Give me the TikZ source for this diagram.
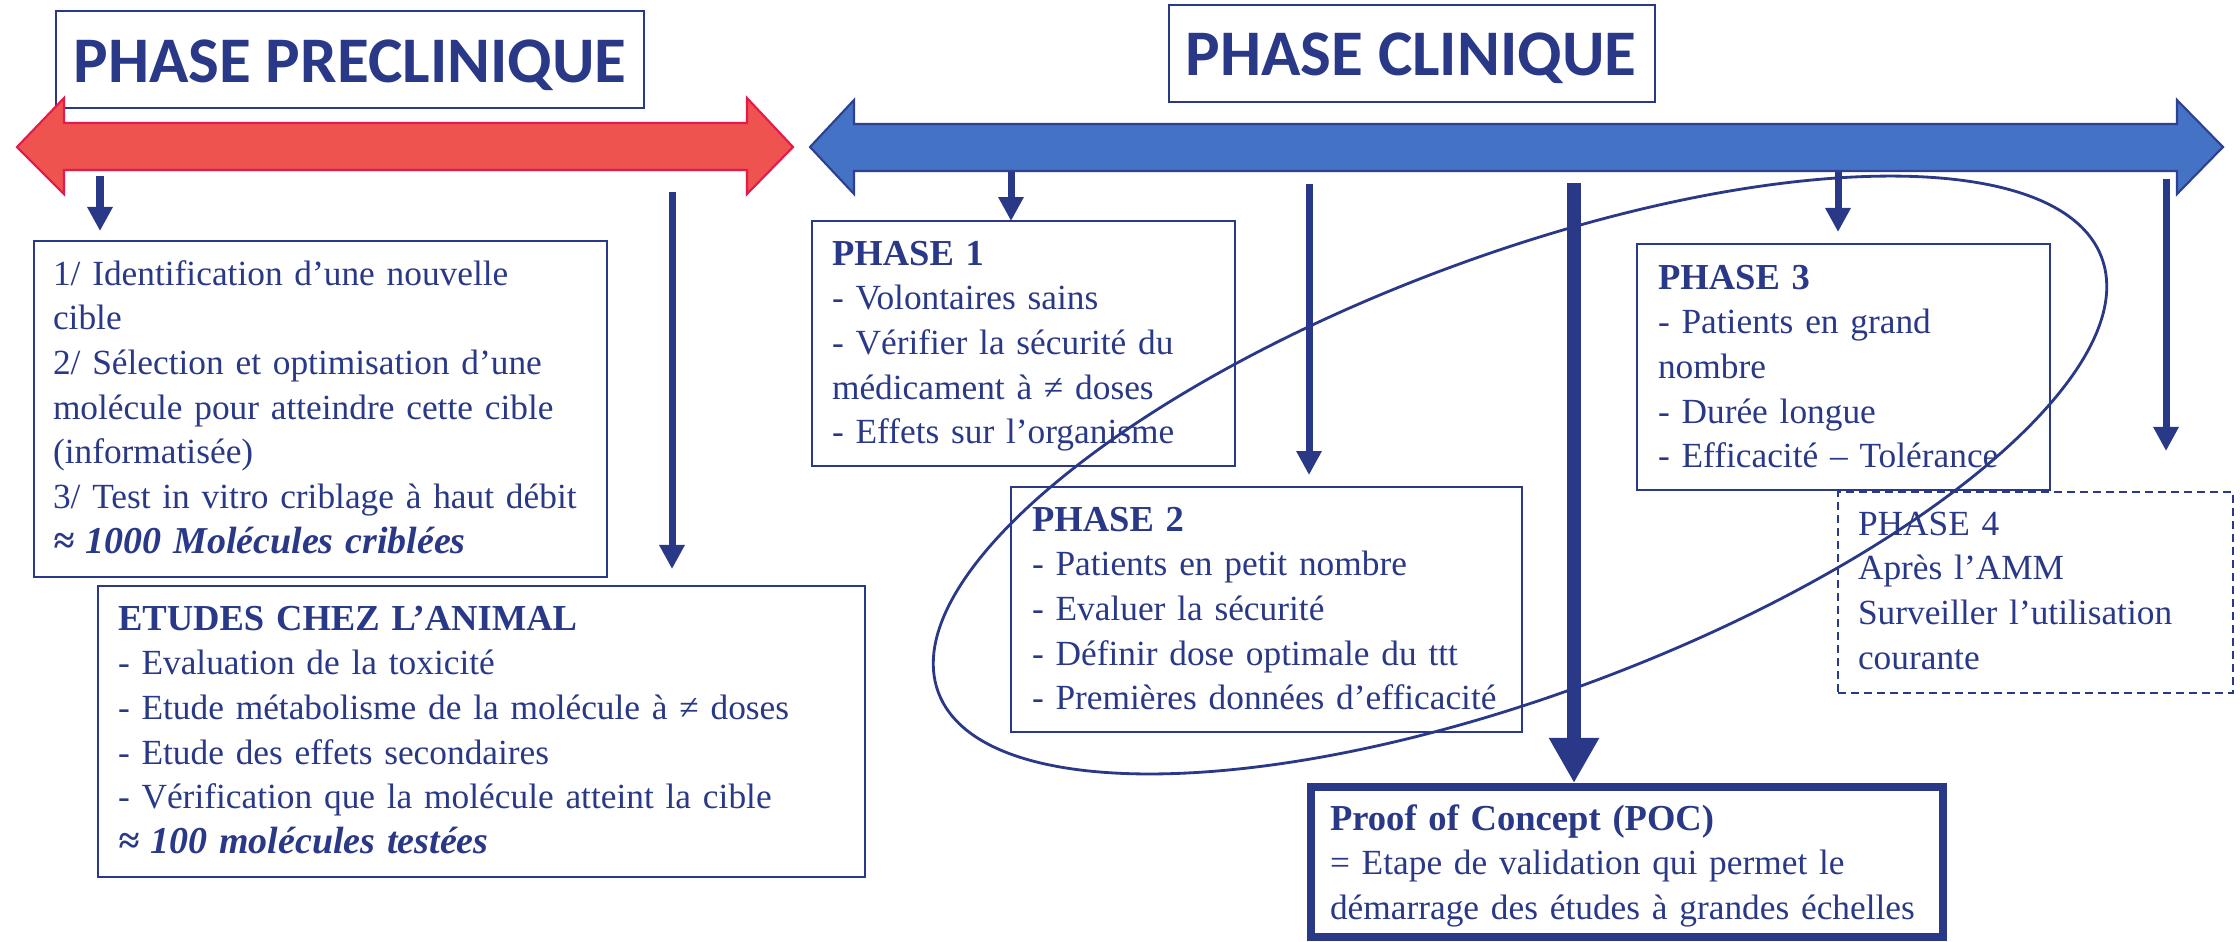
\documentclass[tikz,border=0pt]{standalone}
\usepackage{fontspec}
\setmainfont{Liberation Serif}
\newfontfamily\titlefont{Carlito}
\usetikzlibrary{arrows.meta}
\definecolor{navy}{RGB}{41,56,135}
\definecolor{bluefill}{RGB}{68,114,196}
\definecolor{blueline}{RGB}{45,64,145}
\definecolor{redfill}{RGB}{239,83,80}
\definecolor{redline}{RGB}{228,26,74}
\newcommand{\hdline}[1]{{\fontsize{10.4pt}{12.72pt}\selectfont\bfseries #1}}
\newcommand{\biline}[1]{{\fontsize{10.8pt}{12.72pt}\selectfont\bfseries\itshape #1}}
\begin{document}
\begin{tikzpicture}[x=0.01cm,y=-0.01cm,
  box/.style={draw=navy, line width=0.55pt, anchor=north west, inner sep=0pt, outer sep=0pt},
  txt/.style={anchor=base west, inner sep=0pt, outer sep=0pt, text width=8cm, align=left, text=navy, font=\fontsize{10.05pt}{12.72pt}\selectfont},
  ttl/.style={anchor=base, inner sep=0pt, text=navy, font=\titlefont\bfseries\fontsize{18.5pt}{20pt}\selectfont},
  arr/.style={draw=navy, line width=0.07cm, -{Triangle[width=0.24cm,length=0.24cm]}},
  pocarr/.style={draw=navy, line width=0.14cm, -{Triangle[width=0.47cm,length=0.45cm]}},
  ell/.style={draw=navy, line width=0.8pt},
]
\useasboundingbox (0,0) rectangle (2240,941);

% title boxes
\node[box, fill=white, minimum width=5.88cm, minimum height=0.97cm] (tPre) at (56,11) {};
\node[box, fill=white, minimum width=4.86cm, minimum height=0.97cm] (tCli) at (1169,5) {};
\node[ttl] (tPreT) at (350,82) {PHASE PRECLINIQUE};
\node[ttl] (tCliT) at (1411,75) {PHASE CLINIQUE};

% timeline arrows
\draw[draw=redline, fill=redfill, line width=0.6pt, line join=miter]
  (17,147) -- (64,98) -- (64,123) -- (747,123) -- (747,98) -- (793,147)
  -- (747,194) -- (747,170) -- (64,170) -- (64,194) -- cycle;
\draw[draw=blueline, fill=bluefill, line width=0.6pt, line join=miter]
  (810,147) -- (854,100) -- (854,124) -- (2177,124) -- (2177,100) -- (2223,147)
  -- (2177,194) -- (2177,171) -- (854,171) -- (854,194) -- cycle;

% boxes
\node[box, minimum width=5.73cm, minimum height=3.36cm] (b1) at (34,241) {};
\node[box, minimum width=7.67cm, minimum height=2.91cm] (bA) at (98,586) {};
\node[box, minimum width=4.23cm, minimum height=2.45cm] (p1) at (812,221) {};
\node[box, minimum width=5.11cm, minimum height=2.45cm] (p2) at (1011,487) {};
\node[box, minimum width=4.13cm, minimum height=2.46cm] (p3) at (1637,244) {};
\node[box, dash pattern=on 0.08cm off 0.05cm, minimum width=3.95cm, minimum height=2.01cm] (p4) at (1838,492) {};
\node[box, line width=0.08cm, minimum width=6.32cm, minimum height=1.50cm] (poc) at (1311,787) {};

% ellipse
\draw[ell, rotate around={20.5:(1520,475)}] (1520,475) ellipse [x radius=621, y radius=219];

% arrow starts
\coordinate (s0) at (100,176);
\coordinate (sA) at (672,192);
\coordinate (s1) at (1011,172);
\coordinate (s2) at (1309,184);
\coordinate (sP) at (1574,183);
\coordinate (s3) at (1838,172);
\coordinate (s4) at (2166,179);

\draw[arr, shorten >=0.1cm] (s0) -- (s0 |- b1.north);
\draw[arr, shorten >=0.17cm] (sA) -- (sA |- bA.north);
\draw[arr] (s1) -- (s1 |- p1.north);
\draw[arr, shorten >=0.12cm] (s2) -- (s2 |- p2.north);
\draw[pocarr, shorten >=0.04cm] (sP) -- (sP |- poc.north);
\draw[arr, shorten >=0.12cm] (s3) -- (s3 |- p3.north);
\draw[arr, shorten >=0.41cm] (s4) -- (s4 |- p4.north);

% texts
\node[txt] (b1T) at (53,285) {1/ Identification d’une nouvelle\\cible\\2/ Sélection et optimisation d’une\\molécule pour atteindre cette cible\\(informatisée)\\3/ Test in vitro criblage à haut débit\\\biline{≈ 1000 Molécules criblées}};
\node[txt] (bAT) at (118,630) {\hdline{ETUDES CHEZ L’ANIMAL}\\- Evaluation de la toxicité\\- Etude métabolisme de la molécule à ≠ doses\\- Etude des effets secondaires\\- Vérification que la molécule atteint la cible\\\biline{≈ 100 molécules testées}};
\node[txt] (p1T) at (832,265) {\hdline{PHASE 1}\\- Volontaires sains\\- Vérifier la sécurité du\\médicament à ≠ doses\\- Effets sur l’organisme};
\node[txt] (p2T) at (1032,531) {\hdline{PHASE 2}\\- Patients en petit nombre\\- Evaluer la sécurité\\- Définir dose optimale du ttt\\- Premières données d’efficacité};
\node[txt] (p3T) at (1658,289) {\hdline{PHASE 3}\\- Patients en grand\\nombre\\- Durée longue\\- Efficacité – Tolérance};
\node[txt] (p4T) at (1858,535) {PHASE 4\\Après l’AMM\\Surveiller l’utilisation\\courante};
\node[txt] (pocT) at (1330,830) {\hdline{Proof of Concept (POC)}\\= Etape de validation qui permet le\\démarrage des études à grandes échelles};
\end{tikzpicture}
\end{document}
